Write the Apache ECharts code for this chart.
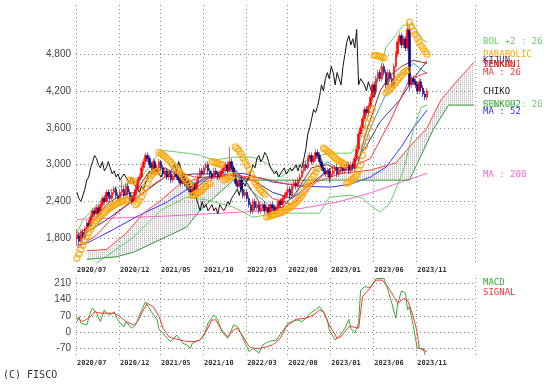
<!DOCTYPE html>
<html><head><meta charset="utf-8">
<script src="https://cdn.jsdelivr.net/npm/echarts@6/dist/echarts.min.js"></script>
<style>html,body{margin:0;padding:0;background:#fff}#c{width:559px;height:385px}</style>
</head><body><div id="c"></div>
<script>
// ---- data ----
const N_WEEKS = 204;
const xTickWeeks = [0,22,43,65,87,108,130,152,174];
const xTickLabels = ['2020/07','2020/12','2021/05','2021/10','2022/03','2022/08','2023/01','2023/06','2023/11'];
const yTicks = [1800,2400,3000,3600,4200,4800];
const macdTicks = [-70,0,70,140,210];

const open = [1800,1850,1750,1900,1800,1950,2050,2000,2150,2250,2200,2300,2200,2350,2450,2400,2550,2500,2450,2550,2600,2500,2450,2550,2600,2500,2650,2550,2450,2400,2500,2600,2750,2800,2950,3050,3150,3100,3000,2950,3050,2900,2950,3050,2950,2850,2900,2800,2850,2750,2800,2850,2800,2750,2700,2800,2700,2650,2600,2550,2650,2600,2700,2800,2900,2850,2950,3000,2900,2850,2800,2900,2850,2800,2850,2900,2950,3000,2900,3050,2950,2850,2700,2650,2750,2600,2500,2550,2450,2350,2250,2400,2300,2350,2250,2300,2350,2250,2300,2200,2350,2300,2250,2300,2400,2350,2450,2500,2550,2600,2500,2650,2700,2650,2750,2800,2900,3000,2950,3100,3150,3050,3100,3200,3150,3050,2950,2900,2850,2900,2800,2850,2900,2950,2850,2900,2950,2900,2950,3000,2900,3000,2950,3100,3250,3500,3600,3750,3900,3850,3950,4100,4300,4200,4400,4500,4400,4600,4500,4300,4500,4400,4300,4600,4800,5000,5100,4950,5050,4900,5200,4300,4400,4350,4300,4200,4350,4250,4150,4100];
const close = [1850,1750,1900,1800,1950,2050,2000,2150,2250,2200,2300,2200,2350,2450,2400,2550,2500,2450,2550,2600,2500,2450,2550,2600,2500,2650,2550,2450,2400,2500,2600,2750,2800,2950,3050,3150,3100,3000,2950,3050,2900,2950,3050,2950,2850,2900,2800,2850,2750,2800,2850,2800,2750,2700,2800,2700,2650,2600,2550,2650,2600,2700,2800,2900,2850,2950,3000,2900,2850,2800,2900,2850,2800,2850,2900,2950,3000,2900,3050,2950,2850,2700,2650,2750,2600,2500,2550,2450,2350,2250,2400,2300,2350,2250,2300,2350,2250,2300,2200,2350,2300,2250,2300,2400,2350,2450,2500,2550,2600,2500,2650,2700,2650,2750,2800,2900,3000,2950,3100,3150,3050,3100,3200,3150,3050,2950,2900,2850,2900,2800,2850,2900,2950,2850,2900,2950,2900,2950,3000,2900,3000,2950,3100,3250,3500,3600,3750,3900,3850,3950,4100,4300,4200,4400,4500,4400,4600,4500,4300,4500,4400,4300,4600,4800,5000,5100,4950,5050,4900,5200,4300,4400,4350,4300,4200,4350,4250,4150,4100,4200];
const low = [1700,1700,1720,1750,1780,1900,1950,1980,2100,2150,2150,2150,2180,2300,2350,2380,2450,2400,2420,2500,2450,2400,2420,2500,2450,2480,2500,2400,2350,2380,2450,2580,2700,2780,2900,3000,3050,2950,2900,2920,2850,2850,2920,2900,2800,2800,2750,2750,2700,2700,2750,2750,2700,2650,2680,2650,2600,2550,2500,2520,2550,2580,2680,2780,2800,2820,2900,2850,2800,2750,2780,2800,2750,2750,2800,2850,2900,2850,2880,2900,2800,2650,2600,2620,2550,2450,2450,2400,2300,2200,2200,2250,2250,2200,2200,2250,2200,2200,2150,2150,2250,2200,2200,2250,2300,2300,2400,2450,2500,2450,2480,2600,2600,2620,2700,2780,2850,2900,2920,3050,3000,3000,3050,3100,3000,2900,2850,2800,2800,2700,2750,2800,2850,2800,2800,2850,2850,2850,2900,2850,2850,2900,2900,3050,3200,3450,3550,3700,3800,3800,3900,4050,4150,4150,4350,4350,4350,4450,4250,4250,4350,4250,4250,4550,4750,4950,4900,4900,4850,4850,4200,4250,4300,4250,4150,4150,4200,4100,4050,4050];
const high = [1950,1900,1950,1950,2000,2100,2100,2200,2300,2300,2350,2350,2400,2500,2500,2600,2600,2550,2600,2650,2650,2550,2600,2750,2650,2700,2700,2600,2500,2550,2650,2800,2850,3000,3100,3200,3200,3150,3050,3100,3080,3000,3100,3080,3000,2950,2950,2900,2900,2850,2900,2900,2850,2800,2850,2850,2750,2700,2650,2700,2700,2750,2850,2950,2950,3000,3050,3050,2950,2900,2950,2950,2900,2900,2950,3000,3050,3050,3290,3100,3000,2900,2750,2800,2800,2650,2600,2600,2500,2400,2450,2450,2400,2400,2350,2400,2400,2350,2350,2400,2400,2350,2350,2450,2450,2500,2550,2600,2650,2650,2700,2750,2750,2800,2850,2950,3050,3050,3150,3200,3200,3150,3260,3250,3200,3100,3000,2950,2950,2950,2900,2950,3000,3000,2950,3000,3000,3000,3050,3050,3050,3050,3150,3300,3550,3650,3800,3950,3950,4000,4150,4350,4350,4450,4550,4550,4650,4650,4550,4550,4550,4450,4650,4850,5050,5150,5150,5100,5100,5320,5250,4450,4450,4400,4350,4400,4400,4300,4200,4250];

const ma200 = [[0,2110],[43,2160],[102,2260],[115,2290],[133,2390],[150,2540],[166,2720],[179,2860]];
const ma52 = [[0,1690],[5,1720],[18,1935],[32,2180],[46,2390],[56,2590],[66,2780],[75,2830],[85,2860],[100,2720],[115,2650],[130,2635],[140,2685],[150,2800],[158,2960],[166,3300],[172,3600],[179,3890]];
const ma26 = [[0,1650],[10,1850],[20,2200],[30,2450],[40,2700],[50,2900],[60,2800],[70,2780],[80,2850],[90,2750],[100,2450],[110,2350],[120,2650],[130,2950],[140,2960],[150,3100],[160,3700],[170,4390],[179,4500]];
const ma13 = [[0,1800],[10,2000],[20,2400],[30,2520],[40,2900],[50,2880],[60,2700],[70,2850],[80,2900],[90,2550],[100,2300],[110,2450],[120,2850],[128,3050],[135,2900],[143,2950],[150,3600],[158,4150],[165,4450],[172,4650],[179,4480]];
const bolUp = [[0,1886],[3,2098],[17,2586],[32,2749],[43,3237],[56,3188],[63,3156],[70,3074],[80,3123],[90,3123],[97,3025],[104,2798],[120,3123],[129,3188],[140,3188],[145,3400],[151,4051],[158,4914],[167,5272],[172,5272],[177,5028],[179,4995]];
const bolDn = [[0,1100],[5,1250],[10,1398],[29,1821],[43,2260],[56,2472],[67,2423],[80,2309],[90,2146],[102,2211],[108,2211],[124,2211],[129,2472],[140,2504],[146,2455],[150,2342],[155,2228],[160,2374],[167,2912],[172,3563],[176,3937],[179,3970]];
const senkou1 = [[5,1600],[15,1620],[25,1880],[34,2211],[43,2423],[53,2700],[65,2800],[80,2830],[95,2780],[105,2700],[115,2650],[125,2750],[135,2860],[150,2912],[163,3030],[170,3290],[179,3600],[186,4050],[194,4350],[203,4670]];
const senkou2 = [[5,1460],[20,1500],[29,1577],[42,1772],[56,1983],[63,2260],[80,2749],[170,2749],[182,3563],[190,3970],[203,3970]];
const tenkan = [[0,1850],[8,2050],[15,2350],[22,2500],[30,2550],[36,2850],[45,2950],[55,2750],[62,2650],[70,2850],[80,2950],[87,2700],[95,2300],[105,2300],[112,2550],[120,2950],[128,3000],[135,2900],[143,2950],[148,3550],[155,4200],[160,4450],[166,4600],[172,4700],[179,4650]];
const kijun = [[0,1800],[15,2100],[30,2450],[45,2800],[60,2850],[75,2850],[90,2750],[100,2550],[110,2450],[120,2700],[130,2950],[140,2950],[148,3300],[155,3700],[165,4050],[172,4400],[179,4690]];
const sar = [[0,1480],[1,1550],[2,1620],[3,1690],[4,1760],[5,1830],[6,1890],[7,1950],[8,2000],[9,2050],[10,2090],[11,2130],[12,2160],[13,2190],[14,2220],[15,2250],[16,2280],[17,2300],[18,2320],[19,2340],[20,2360],[21,2380],[22,2390],[23,2400],[24,2410],[25,2420],[26,2430],
 [27,2750],[28,2740],[29,2730],
 [30,2350],[31,2380],[32,2420],[33,2480],[34,2550],[35,2620],[36,2700],[37,2770],[38,2820],[39,2860],[40,2880],[41,2890],
 [42,3200],[43,3180],[44,3160],[45,3130],[46,3100],[47,3070],[48,3040],[49,3000],[50,2970],[51,2930],[52,2900],[53,2860],[54,2820],[55,2780],[56,2740],[57,2700],[58,2660],
 [59,2500],[60,2510],[61,2520],[62,2540],[63,2560],[64,2590],[65,2620],[66,2650],[67,2680],[68,2700],
 [69,3050],[70,3040],[71,3030],[72,3020],[73,3010],[74,3000],
 [75,2750],[76,2760],[77,2780],[78,2800],[79,2810],[80,2820],
 [81,3290],[82,3260],[83,3220],[84,3170],[85,3110],[86,3050],[87,2990],[88,2920],[89,2850],[90,2780],[91,2720],[92,2670],[93,2620],[94,2580],[95,2550],[96,2520],
 [97,2150],[98,2160],[99,2170],[100,2180],[101,2190],[102,2200],[103,2210],[104,2220],[105,2230],[106,2250],[107,2270],[108,2290],[109,2310],[110,2330],[111,2360],[112,2390],[113,2420],[114,2460],[115,2500],[116,2550],[117,2600],[118,2650],[119,2700],[120,2760],[121,2820],[122,2880],[123,2940],
 [126,3270],[127,3250],[128,3220],[129,3200],[130,3170],[131,3140],[132,3110],[133,3080],[134,3060],[135,3040],[136,3020],[137,3000],
 [138,2700],[139,2720],[140,2740],[141,2760],[142,2790],[143,2830],[144,2900],[145,3000],[146,3150],[147,3300],[148,3450],[149,3600],[150,3750],[151,3900],
 [152,4780],[153,4780],[154,4770],[155,4760],[156,4750],[157,4740],
 [158,4170],[159,4200],[160,4230],[161,4260],[162,4300],[163,4340],[164,4380],[165,4420],[166,4460],[167,4500],[168,4520],[169,4540],
 [170,5320],[171,5250],[172,5180],[173,5120],[174,5060],[175,5000],[176,4940],[177,4890],[178,4840],[179,4800]];
const macd = [[0,45],[1,67],[2,39],[5,31],[7,88],[8,103],[10,82],[12,46],[14,96],[15,82],[17,74],[19,88],[20,67],[22,39],[24,24],[25,46],[28,17],[30,31],[32,74],[35,131],[36,124],[38,88],[41,53],[42,10],[44,-4],[46,-26],[48,-40],[51,-12],[54,-47],[56,-54],[58,-69],[59,-47],[63,-33],[65,-12],[67,39],[70,74],[72,53],[74,3],[77,-26],[78,-12],[80,31],[82,24],[83,10],[86,-47],[88,-83],[90,-69],[93,-90],[95,-54],[98,-40],[102,-33],[105,3],[108,39],[110,46],[113,53],[115,45],[117,60],[120,88],[122,96],[124,110],[126,88],[128,53],[129,10],[132,-33],[134,-19],[137,17],[139,56],[140,17],[142,-4],[144,39],[145,181],[147,195],[150,193],[151,188],[153,231],[157,231],[159,181],[161,124],[163,60],[164,124],[166,178],[168,167],[169,96],[170,110],[172,24],[174,-69],[175,-73],[177,-69],[178,-97]];
const signal = [[0,60],[3,46],[7,67],[9,88],[12,82],[15,82],[19,82],[22,67],[25,46],[29,31],[31,46],[34,96],[36,124],[39,110],[42,67],[44,17],[47,-19],[49,-26],[53,-33],[56,-40],[60,-40],[63,-33],[66,3],[69,53],[71,53],[74,10],[77,-19],[80,10],[82,17],[85,-19],[88,-62],[90,-69],[94,-69],[97,-62],[100,-54],[104,-26],[107,24],[112,56],[117,60],[121,74],[124,96],[126,88],[129,31],[133,-26],[135,-19],[139,24],[141,24],[144,17],[146,153],[149,181],[151,203],[153,224],[156,224],[159,195],[162,153],[164,124],[167,145],[169,138],[172,67],[174,-4],[175,-69],[177,-76],[179,-83]];

// ---- chart ----
const categories = Array.from({length: N_WEEKS}, (_, i) => String(i));
const tickLabelByWeek = {};
xTickWeeks.forEach((w, k) => tickLabelByWeek[w] = xTickLabels[k]);
const isTick = (idx) => tickLabelByWeek[idx] !== undefined;
const candles = open.map((o, i) => [o, close[i], low[i], high[i]]);
const chikou = close.slice(26).map((v, i) => [i, v]);

const pc = document.createElement('canvas');
pc.width = 2; pc.height = 2;
const pctx = pc.getContext('2d');
pctx.fillStyle = '#c4c4c4';
pctx.fillRect(0, 0, 1, 1);
pctx.fillStyle = '#e4e4e4';
pctx.fillRect(0, 1, 1, 1);
const hatch = {image: pc, repeat: 'repeat'};

const gridLine = {color: '#8a8a8a', width: 1, type: [1, 3]};
const monoFont = 'DejaVu Sans Mono';

function xAxisCfg(gi) {
  return {
    type: 'category', gridIndex: gi, data: categories, boundaryGap: true,
    axisLine: {show: false}, axisTick: {show: false},
    splitLine: {show: true, interval: (i) => isTick(i), lineStyle: gridLine},
    axisLabel: {interval: (i) => isTick(i), formatter: (v, i) => tickLabelByWeek[i] || '',
      align: 'left', margin: 4, fontFamily: monoFont, fontWeight: 'bold', fontSize: 7, color: '#333'}
  };
}
function hLines(vals) {
  return {
    silent: true, symbol: 'none', animation: false,
    lineStyle: gridLine,
    label: {show: true, position: 'start', distance: 5, color: '#444', fontFamily: 'Liberation Sans', fontSize: 10,
      formatter: (p) => Number(p.value).toLocaleString('en-US')},
    data: vals.map(v => ({yAxis: v}))
  };
}
const line = (data, color, z, extra) => Object.assign({
  type: 'line', data, showSymbol: false, symbol: 'none', z, lineStyle: {color, width: 1}, animation: false,
  xAxisIndex: 0, yAxisIndex: 0, silent: true
}, extra || {});

const legendTexts = [
  ['BOL +2 : 26', '#66cc66', 42],
  ['PARABOLIC', '#ffa500', 55],
  ['KIJUN', '#333399', 61],
  ['SENKOU1', '#ff4444', 65],
  ['TENKAN', '#cc2222', 65],
  ['MA : 26', '#ff3333', 73],
  ['CHIKO', '#222222', 92],
  ['SENKOU2', '#339933', 105],
  ['BOL -2 : 26', '#66cc66', 105],
  ['MA : 52', '#3333ff', 112],
  ['MA : 200', '#ff66cc', 175],
  ['MACD', '#33aa33', 283],
  ['SIGNAL', '#ff3333', 293]
];

const chart = echarts.init(document.getElementById('c'), null, {renderer: 'canvas'});
chart.setOption({
  animation: false,
  backgroundColor: '#fff',
  grid: [
    {left: 76, right: 84, top: 5, bottom: 122},
    {left: 76, right: 84, top: 278, bottom: 29}
  ],
  xAxis: [xAxisCfg(0), xAxisCfg(1)],
  yAxis: [
    {type: 'value', gridIndex: 0, min: 1400, max: 5600, axisLine: {show: false}, axisTick: {show: false}, axisLabel: {show: false}, splitLine: {show: false}},
    {type: 'value', gridIndex: 1, min: -102, max: 233, axisLine: {show: false}, axisTick: {show: false}, axisLabel: {show: false}, splitLine: {show: false}}
  ],
  graphic: legendTexts.map(([t, c, y]) => ({
    type: 'text', left: 483, top: y - 5, silent: true,
    style: {text: t, fill: c, font: '9px "DejaVu Sans Mono"'}
  })).concat([{type: 'text', left: 3, top: 370, silent: true, style: {text: '(C) FISCO', fill: '#333', font: '10px "DejaVu Sans Mono"'}}]),
  series: [
    {
      type: 'custom', xAxisIndex: 0, yAxisIndex: 0, data: [[0, 2000]], z: 1, silent: true, clip: true,
      renderItem: (params, api) => {
        const pts = senkou1.map(p => api.coord(p)).concat(senkou2.slice().reverse().map(p => api.coord(p)));
        return {type: 'polygon', shape: {points: pts}, style: {fill: hatch, stroke: null}};
      },
      markLine: hLines(yTicks)
    },
    line(ma200, '#ff66cc', 2),
    line(ma52, '#3333ff', 3),
    line(bolUp, '#66cc66', 3),
    line(bolDn, '#66cc66', 3),
    line(senkou1, '#ff4444', 3),
    line(senkou2, '#339933', 3),
    line(kijun, '#333399', 4),
    line(tenkan, '#aa2222', 4),
    line(ma26, '#ff3333', 4),
    line(ma13, '#33a6a6', 4),
    line(chikou, '#111111', 4),
    {
      type: 'candlestick', xAxisIndex: 0, yAxisIndex: 0, data: candles, barWidth: 2, z: 5, silent: true,
      itemStyle: {color: '#ff0000', color0: '#000080', borderColor: '#ff0000', borderColor0: '#000080', borderWidth: 0.6}
    },
    {
      type: 'scatter', xAxisIndex: 0, yAxisIndex: 0, data: sar, symbol: 'circle', symbolSize: 6, z: 6, silent: true,
      itemStyle: {color: 'rgba(0,0,0,0)', borderColor: '#ffa500', borderWidth: 1.3}
    },
    {
      type: 'line', xAxisIndex: 1, yAxisIndex: 1, data: macd, showSymbol: false, symbol: 'none', z: 4, silent: true,
      lineStyle: {color: '#33aa33', width: 1},
      markLine: hLines(macdTicks)
    },
    {
      type: 'line', xAxisIndex: 1, yAxisIndex: 1, data: signal, showSymbol: false, symbol: 'none', z: 4, silent: true,
      lineStyle: {color: '#ff3333', width: 1}
    }
  ]
});
</script></body></html>
